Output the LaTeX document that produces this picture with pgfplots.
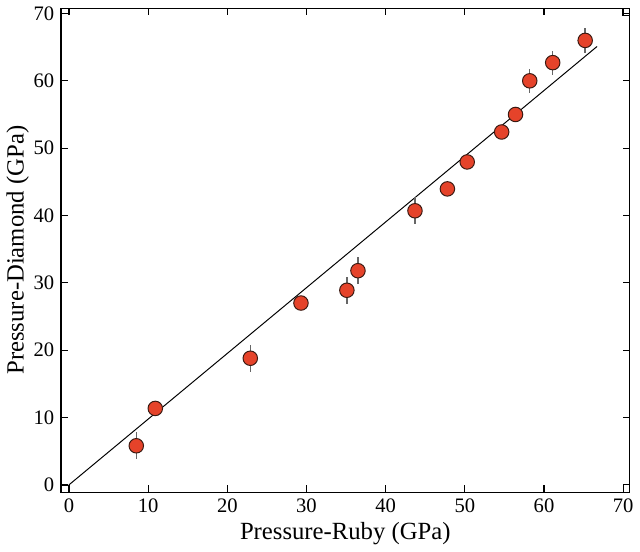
\documentclass[border=0pt]{standalone}
\usepackage{fontspec}
\setmainfont{Liberation Serif}
\usepackage{pgfplots}
\pgfplotsset{compat=1.18}
\definecolor{dotred}{HTML}{E5432A}
\definecolor{dotedge}{HTML}{3A1A12}
\definecolor{errgray}{HTML}{666666}

\begin{document}
\begin{tikzpicture}
\begin{axis}[scale only axis, width=290pt, height=247pt,
  xmin=-1, xmax=70.8, ymin=-1.1, ymax=70.8,
  xtick={0,10,...,70}, ytick={0,10,...,70},
  tick align=inside, major tick length=3.5pt, ticks=major,
  axis line style={line width=0.6pt}, every tick/.style={black, line width=0.6pt},
  /pgf/number format/assume math mode=true,
  tick label style={font=\fontsize{10.5}{12}\selectfont},
  label style={font=\fontsize{12.6}{14}\selectfont},
  xlabel={Pressure-Ruby (GPa)}, ylabel={Pressure-Diamond (GPa)},
  xlabel style={yshift=2pt}, ylabel style={yshift=-4.5pt},
  clip=false]
% fit line
\addplot[black, line width=0.5pt] coordinates {(0,0) (66.7,65.1)};
% corner boxes
\addplot[only marks, mark=square, mark size=1.8pt, mark options={black, line width=0.4pt}]
  coordinates {(-0.5,-0.6) (70.3,70.3)};
% error bars
\addplot[draw=none, mark=none, errgray, error bars/.cd, y dir=both, y explicit,
  error bar style={errgray, line width=0.7pt}, error mark=none]
  coordinates {
  (8.5,5.8) +- (0,2.0)
  (22.9,18.8) +- (0,2.0)
  (35.1,28.9) +- (0,2.0)
  (36.5,31.8) +- (0,2.0)
  (43.7,40.7) +- (0,2.0)
  (58.2,60.0) +- (0,1.8)
  (61.1,62.7) +- (0,1.8)
  (65.2,66.0) +- (0,1.8)
  };
% data
\addplot[only marks, mark=*, mark size=3.7pt, mark options={fill=dotred, draw=dotedge, line width=0.5pt}]
  coordinates {
  (8.5,5.8) (10.9,11.35) (22.9,18.8) (29.3,27.0) (35.1,28.9) (36.5,31.8)
  (43.7,40.7) (47.8,43.95) (50.3,47.95) (54.65,52.4) (56.4,55.0)
  (58.2,60.0) (61.1,62.7) (65.2,66.0)
  };
\end{axis}
\end{tikzpicture}
\end{document}
